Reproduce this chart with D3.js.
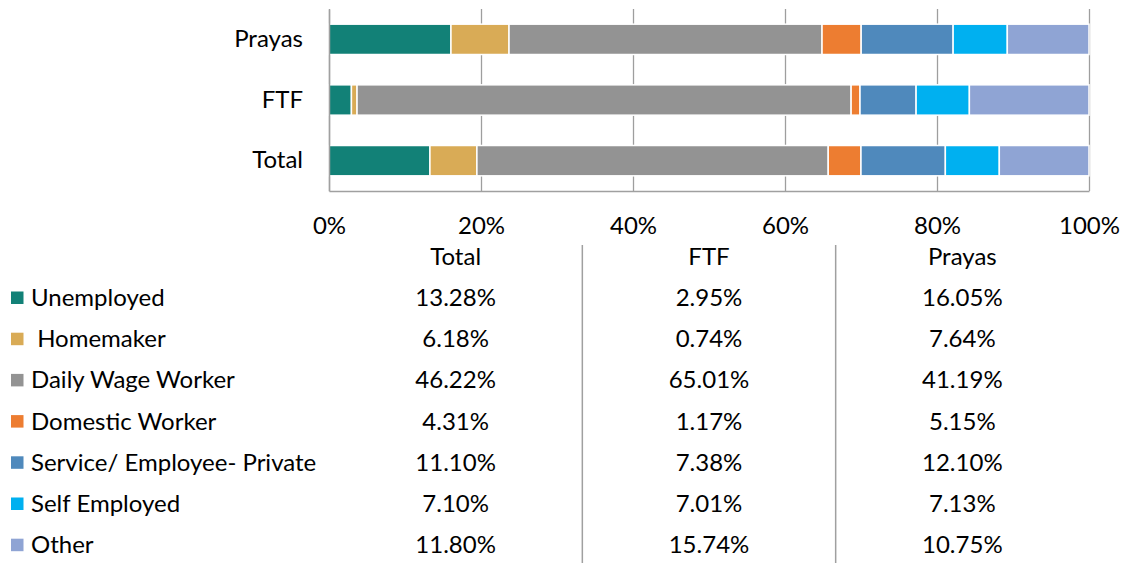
<!DOCTYPE html>
<html>
<head>
<meta charset="utf-8">
<script src="https://cdn.jsdelivr.net/npm/d3@7"></script>
<style>
  body { margin: 0; background: #fff; }
  svg text { font-family: Lato, "Open Sans", sans-serif; fill: #000; }
</style>
</head>
<body>
<div id="chart"></div>
<script>
// bar categories, top to bottom
var categories = ["Prayas", "FTF", "Total"];
// data table columns, left to right
var tableColumns = ["Total", "FTF", "Prayas"];
var seriesNames = ["Unemployed", " Homemaker", "Daily Wage Worker", "Domestic Worker",
  "Service/ Employee- Private", "Self Employed", "Other"];
var seriesColors = ["#128177", "#d9ab56", "#939393", "#ed7d31", "#4f89bc", "#00b0f0", "#8fa4d4"];
// values in %, ordered as tableColumns (Total, FTF, Prayas)
var unemployed = [13.28, 2.95, 16.05];
var homemaker = [6.18, 0.74, 7.64];
var dailyWage = [46.22, 65.01, 41.19];
var domestic = [4.31, 1.17, 5.15];
var servicePrivate = [11.10, 7.38, 12.10];
var selfEmployed = [7.10, 7.01, 7.13];
var other = [11.80, 15.74, 10.75];
var xTicks = [0, 20, 40, 60, 80, 100];

var seriesValues = [unemployed, homemaker, dailyWage, domestic, servicePrivate, selfEmployed, other];

var width = 1131, height = 563;
var plot = {left: 329, right: 1089, top: 9, bottom: 191};

var svg = d3.select("#chart").append("svg")
  .attr("width", width)
  .attr("height", height);

var x = d3.scaleLinear().domain([0, 100]).range([plot.left, plot.right]);
var y = d3.scaleBand().domain(categories).range([plot.top, plot.bottom]).paddingInner(0.5).paddingOuter(0.25);

// gridlines
var grid = svg.append("g")
  .attr("transform", "translate(0," + plot.bottom + ")")
  .call(d3.axisBottom(x).tickValues(xTicks).tickSize(-(plot.bottom - plot.top)).tickFormat(""));
grid.select(".domain").remove();
grid.selectAll("line").attr("stroke", "#9e9e9e").attr("stroke-width", 1.3);

// stacked rows, normalised to 100%
var rows = categories.map(function(c) {
  var ci = tableColumns.indexOf(c);
  var total = d3.sum(seriesValues, function(s) { return s[ci]; });
  var row = {cat: c};
  seriesValues.forEach(function(s, i) { row[i] = s[ci] / total * 100; });
  return row;
});
var stack = d3.stack().keys(d3.range(seriesValues.length));
var layers = stack(rows);

svg.append("g").selectAll("g")
  .data(layers)
  .join("g")
    .attr("fill", function(d, i) { return seriesColors[i]; })
  .selectAll("rect")
  .data(function(d) { return d; })
  .join("rect")
    .attr("x", function(d) { return x(d[0]); })
    .attr("y", function(d) { return y(d.data.cat); })
    .attr("width", function(d) { return Math.max(0, x(d[1]) - x(d[0])); })
    .attr("height", y.bandwidth())
    .attr("stroke", "#fff")
    .attr("stroke-width", 1.5);

// axes
var xAxis = svg.append("g")
  .attr("transform", "translate(0," + plot.bottom + ")")
  .call(d3.axisBottom(x).tickValues(xTicks).tickSize(0).tickPadding(26)
    .tickFormat(function(d) { return d + "%"; }));
xAxis.select(".domain").attr("stroke", "#a0a0a0").attr("stroke-width", 1.5);
xAxis.selectAll("text").attr("font-size", 24).attr("font-family", "Lato");

var yAxis = svg.append("g")
  .attr("transform", "translate(" + plot.left + ",0)")
  .call(d3.axisLeft(y).tickSize(0).tickPadding(26));
yAxis.select(".domain").attr("stroke", "#a0a0a0").attr("stroke-width", 1.5);
yAxis.selectAll("text").attr("font-size", 24).attr("font-family", "Lato");

// data table below
var col = d3.scaleBand().domain(tableColumns).range([plot.left, plot.right]);
var rowY = function(i) { return 306 + i * 41.2; };
var table = svg.append("g");

table.selectAll(".colhead")
  .data(tableColumns)
  .join("text")
    .attr("class", "colhead")
    .attr("x", function(d) { return col(d) + col.bandwidth() / 2; })
    .attr("y", rowY(-1))
    .attr("text-anchor", "middle")
    .attr("font-size", 24)
    .text(function(d) { return d; });

table.selectAll(".sep")
  .data(tableColumns.slice(1))
  .join("line")
    .attr("class", "sep")
    .attr("x1", function(d) { return col(d); })
    .attr("x2", function(d) { return col(d); })
    .attr("y1", 245)
    .attr("y2", height)
    .attr("stroke", "#a0a0a0")
    .attr("stroke-width", 1.5);

var legendRows = table.selectAll(".lrow")
  .data(seriesNames)
  .join("g")
    .attr("class", "lrow")
    .attr("transform", function(d, i) { return "translate(0," + rowY(i) + ")"; });

legendRows.append("rect")
  .attr("x", 11)
  .attr("y", -14.5)
  .attr("width", 12.5)
  .attr("height", 12.5)
  .attr("fill", function(d, i) { return seriesColors[i]; });

legendRows.append("text")
  .attr("x", 31)
  .attr("font-size", 24)
  .style("white-space", "pre")
  .text(function(d) { return d; });

legendRows.each(function(name, i) {
  d3.select(this).selectAll(".val")
    .data(seriesValues[i])
    .join("text")
      .attr("class", "val")
      .attr("x", function(d, j) { return col(tableColumns[j]) + col.bandwidth() / 2; })
      .attr("text-anchor", "middle")
      .attr("font-size", 24)
      .text(function(d) { return d.toFixed(2) + "%"; });
});
</script>
</body>
</html>
